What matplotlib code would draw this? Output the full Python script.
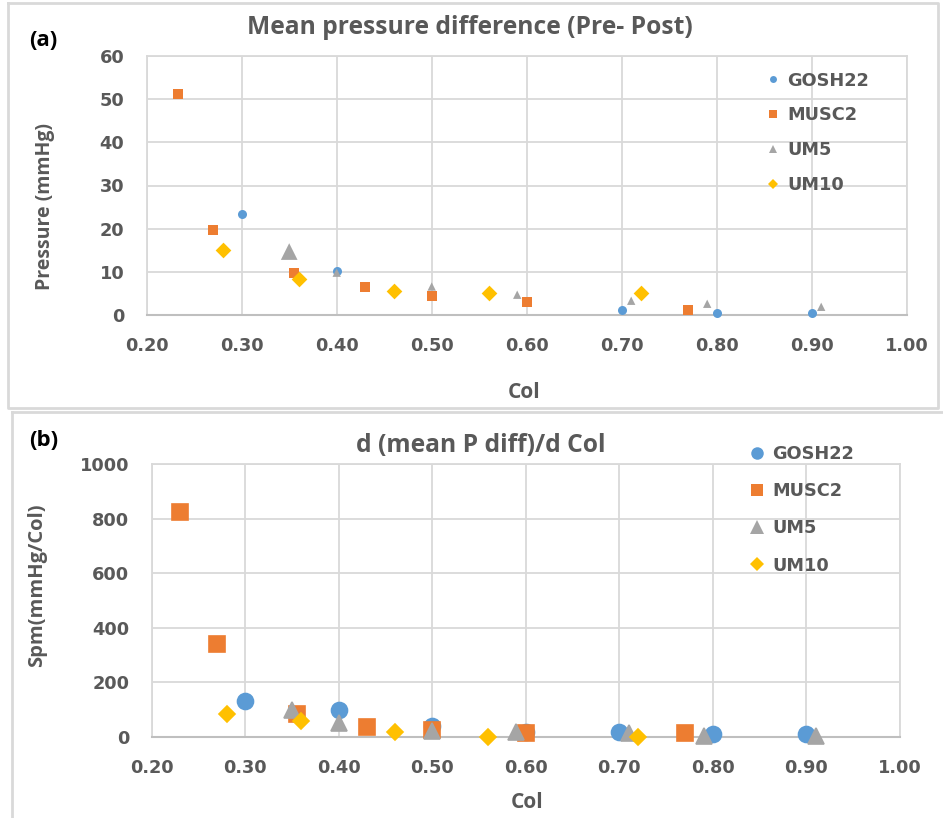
import matplotlib
matplotlib.use("Agg")
import matplotlib.pyplot as plt
from matplotlib.lines import Line2D

# ---------------- data ----------------
series_names = ["GOSH22", "MUSC2", "UM5", "UM10"]

# (a) mean pressure difference (Pre- Post), mmHg
gosh_a_x = [0.30, 0.40, 0.70, 0.80, 0.90]
gosh_a_y = [23.3, 10.1, 1.2, 0.5, 0.5]
musc_a_x = [0.233, 0.27, 0.355, 0.43, 0.50, 0.60, 0.77]
musc_a_y = [51.2, 19.8, 9.8, 6.5, 4.4, 3.0, 1.2]
um5_a_x = [0.35, 0.40, 0.50, 0.59, 0.71, 0.79, 0.91]
um5_a_y = [14.7, 9.8, 6.6, 4.7, 3.3, 2.6, 1.9]
um10_a_x = [0.28, 0.36, 0.46, 0.56, 0.72]
um10_a_y = [15.0, 8.3, 5.5, 5.1, 5.2]

# (b) d(mean P diff)/d Col, mmHg/Col
gosh_b_x = [0.30, 0.40, 0.50, 0.60, 0.70, 0.80, 0.90]
gosh_b_y = [132, 98, 39, 18, 16, 10, 9]
musc_b_x = [0.23, 0.27, 0.355, 0.43, 0.50, 0.60, 0.77]
musc_b_y = [823, 341, 82, 37, 25, 12, 15]
um5_b_x = [0.35, 0.40, 0.50, 0.59, 0.71, 0.79, 0.91]
um5_b_y = [98, 49, 22, 16, 12, 4, 4]
um10_b_x = [0.28, 0.36, 0.46, 0.56, 0.72]
um10_b_y = [82, 59, 16, 0, 0]

x_ticks = [0.20, 0.30, 0.40, 0.50, 0.60, 0.70, 0.80, 0.90, 1.00]
y_ticks_a = [0, 10, 20, 30, 40, 50, 60]
y_ticks_b = [0, 200, 400, 600, 800, 1000]

# ---------------- style ----------------
W, H = 943, 818
colors = ["#5B9BD5", "#ED7D31", "#A5A5A5", "#FFC000"]
markers = ["o", "s", "^", "D"]
txt = "#595959"
grid_c = "#D9D9D9"
tick_font = dict(family="DejaVu Sans", weight="bold", size=12.8, color=txt)
label_font = dict(family="Open Sans", weight="bold", color=txt)

# marker sizes (points) per series
size_a = [6.5, 6.5, 6.0, 8.0]
size_b = [11.5, 11.0, 11.5, 8.3]
um5_a_size = [12.0, 6.0, 6.0, 6.0, 6.0, 6.0, 6.0]   # first UM5 point is drawn enlarged
leg_size_a = [5.0, 6.0, 6.0, 5.5]
leg_size_b = [9.0, 9.0, 9.5, 6.8]

fig = plt.figure(figsize=(W / 100, H / 100), dpi=100)
fig.patch.set_facecolor("white")


def fx(px):
    return px / W


def fy(py):
    return 1 - py / H


def style_axes(ax, yticks, ymax):
    ax.set_xlim(0.20, 1.00)
    ax.set_ylim(0, ymax)
    ax.set_xticks(x_ticks)
    ax.set_xticklabels([f"{v:.2f}" for v in x_ticks], **tick_font)
    ax.set_yticks(yticks)
    ax.set_yticklabels([str(v) for v in yticks], **tick_font)
    ax.tick_params(length=0, pad=16)
    ax.grid(True, color=grid_c, lw=1.3)
    ax.set_axisbelow(True)
    for s in ("top", "right", "left"):
        ax.spines[s].set_color(grid_c)
        ax.spines[s].set_linewidth(1.3)
    ax.spines["bottom"].set_color("#BFBFBF")
    ax.spines["bottom"].set_linewidth(1.5)


# ---------------- panel (a) ----------------
ax1 = fig.add_axes([fx(146.7), fy(315), fx(906.7) - fx(146.7), fy(56) - fy(315)])
data_a = [(gosh_a_x, gosh_a_y), (musc_a_x, musc_a_y), (um5_a_x, um5_a_y), (um10_a_x, um10_a_y)]
for i, (xs, ys) in enumerate(data_a):
    if series_names[i] == "UM5":
        sz = [s ** 2 for s in um5_a_size]
    else:
        sz = size_a[i] ** 2
    ax1.scatter(xs, ys, s=sz, marker=markers[i], color=colors[i], linewidths=0,
                zorder=3 + i, clip_on=False, label=series_names[i])
style_axes(ax1, y_ticks_a, 60)

handles_a = [Line2D([], [], ls="none", marker=markers[i], color=colors[i], mew=0,
                    ms=leg_size_a[i]) for i in range(4)]
ax1.legend(handles_a, series_names, loc="upper left",
           bbox_to_anchor=(fx(766), fy(71.5)), bbox_transform=fig.transFigure,
           frameon=False, borderpad=0, borderaxespad=0, handlelength=0.8,
           handletextpad=0.4, labelspacing=0.95,
           prop=dict(family="DejaVu Sans", weight="bold", size=12.8),
           labelcolor=txt)

fig.text(fx(470), fy(27), "Mean pressure difference (Pre- Post)", ha="center", va="center",
         size=17.7, **label_font)
fig.text(fx(45.5), fy(207), "Pressure (mmHg)", ha="center", va="center", rotation=90,
         size=14, **label_font)
fig.text(fx(524), fy(392), "Col", ha="center", va="center", size=15, **label_font)
fig.text(fx(43), fy(41), "(a)", ha="center", va="center", size=16,
         family="Open Sans", weight="bold", color="black")

# ---------------- panel (b) ----------------
ax2 = fig.add_axes([fx(151.7), fy(736.7), fx(900) - fx(151.7), fy(464) - fy(736.7)])
data_b = [(gosh_b_x, gosh_b_y), (musc_b_x, musc_b_y), (um5_b_x, um5_b_y), (um10_b_x, um10_b_y)]
for i, (xs, ys) in enumerate(data_b):
    ax2.plot(xs, ys, ls="none", marker=markers[i], ms=size_b[i], color=colors[i],
             mec=colors[i], mew=1.2, mfc=colors[i], zorder=3 + i, clip_on=False,
             solid_joinstyle="round", label=series_names[i])
style_axes(ax2, y_ticks_b, 1000)

handles_b = [Line2D([], [], ls="none", marker=markers[i], color=colors[i], mew=0,
                    ms=leg_size_b[i]) for i in range(4)]
ax2.legend(handles_b, series_names, loc="upper left",
           bbox_to_anchor=(fx(750), fy(445)), bbox_transform=fig.transFigure,
           frameon=False, borderpad=0, borderaxespad=0, handlelength=0.8,
           handletextpad=0.45, labelspacing=1.08,
           prop=dict(family="DejaVu Sans", weight="bold", size=12.8),
           labelcolor=txt)

fig.text(fx(481), fy(446), "d (mean P diff)/d Col", ha="center", va="center",
         size=17.7, **label_font)
fig.text(fx(37), fy(585), "Spm(mmHg/Col)", ha="center", va="center", rotation=90,
         size=14.5, **label_font)
fig.text(fx(527), fy(802), "Col", ha="center", va="center", size=15, **label_font)
fig.text(fx(44), fy(441), "(b)", ha="center", va="center", size=16,
         family="Open Sans", weight="bold", color="black")

# ---------------- panel frames ----------------
frame_kw = dict(color="#D9D9D9", lw=2, transform=fig.transFigure, zorder=0)
fig.add_artist(Line2D([fx(8), fx(938), fx(938), fx(8), fx(8)],
                      [fy(3), fy(3), fy(408), fy(408), fy(3)], **frame_kw))
fig.add_artist(Line2D([fx(12), fx(943)], [fy(412), fy(412)], **frame_kw))
fig.add_artist(Line2D([fx(12), fx(12)], [fy(412), fy(818)], **frame_kw))

fig.savefig("out.png", dpi=100, facecolor="white")
